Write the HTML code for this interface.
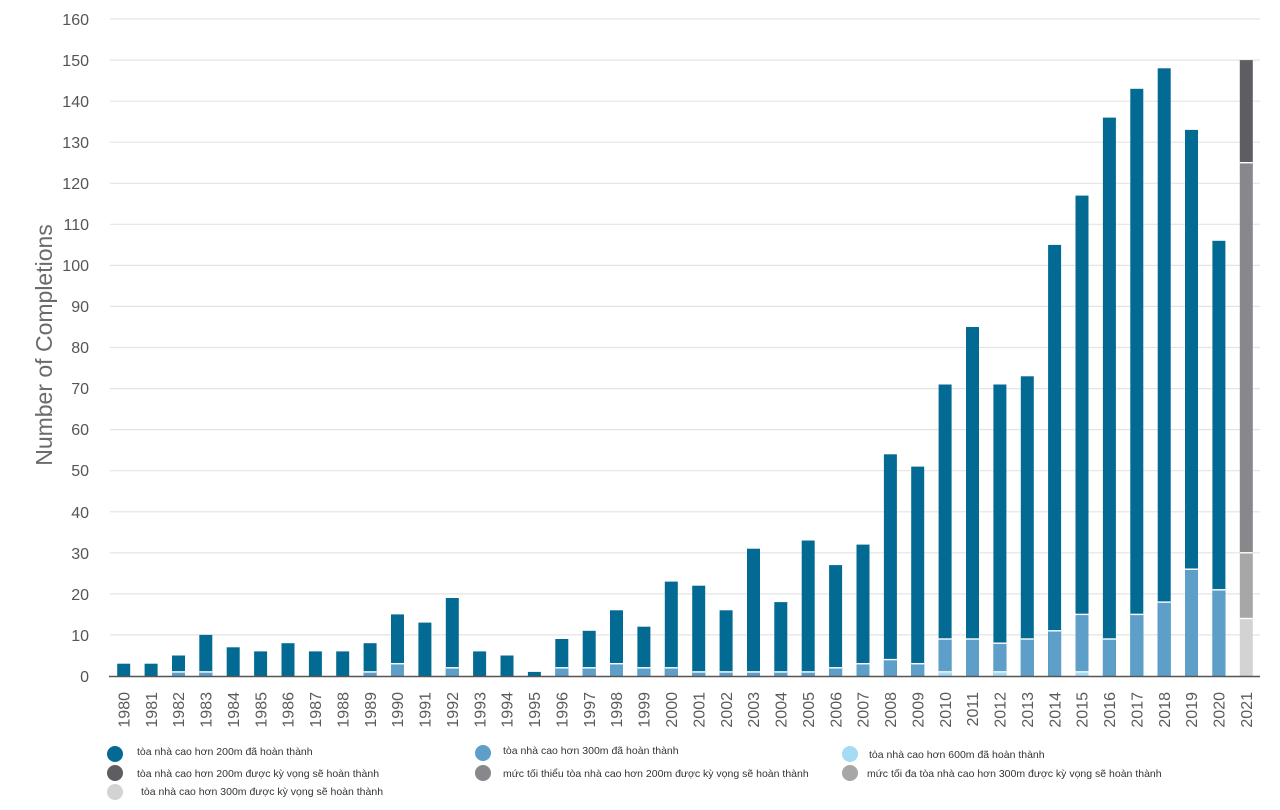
<!DOCTYPE html>
<html>
<head>
<meta charset="utf-8">
<style>
html,body{margin:0;padding:0;background:#fff;}
svg{display:block;}
text{font-family:"Liberation Sans",sans-serif;}
</style>
</head>
<body>
<svg width="1280" height="810" viewBox="0 0 1280 810" xmlns="http://www.w3.org/2000/svg">
<rect width="1280" height="810" fill="#fff"/>
<!-- gridlines -->
<g stroke="#e4e4e4" stroke-width="1.2">
<line x1="110" y1="19" x2="1260" y2="19"/>
<line x1="110" y1="60.1" x2="1260" y2="60.1"/>
<line x1="110" y1="101.2" x2="1260" y2="101.2"/>
<line x1="110" y1="142.2" x2="1260" y2="142.2"/>
<line x1="110" y1="183.3" x2="1260" y2="183.3"/>
<line x1="110" y1="224.3" x2="1260" y2="224.3"/>
<line x1="110" y1="265.4" x2="1260" y2="265.4"/>
<line x1="110" y1="306.4" x2="1260" y2="306.4"/>
<line x1="110" y1="347.5" x2="1260" y2="347.5"/>
<line x1="110" y1="388.6" x2="1260" y2="388.6"/>
<line x1="110" y1="429.6" x2="1260" y2="429.6"/>
<line x1="110" y1="470.7" x2="1260" y2="470.7"/>
<line x1="110" y1="511.8" x2="1260" y2="511.8"/>
<line x1="110" y1="552.8" x2="1260" y2="552.8"/>
<line x1="110" y1="593.9" x2="1260" y2="593.9"/>
<line x1="110" y1="634.9" x2="1260" y2="634.9"/>
</g>
<!-- y labels -->
<g font-size="16" fill="#555" text-anchor="end">
<text x="89" y="25">160</text>
<text x="89" y="66">150</text>
<text x="89" y="107">140</text>
<text x="89" y="148">130</text>
<text x="89" y="189">120</text>
<text x="89" y="230">110</text>
<text x="89" y="271">100</text>
<text x="89" y="312">90</text>
<text x="89" y="353">80</text>
<text x="89" y="394">70</text>
<text x="89" y="435">60</text>
<text x="89" y="476">50</text>
<text x="89" y="518">40</text>
<text x="89" y="559">30</text>
<text x="89" y="600">20</text>
<text x="89" y="641">10</text>
<text x="89" y="682">0</text>
</g>
<text transform="translate(52,345) rotate(-90)" font-size="23" fill="#6b6b6b" text-anchor="middle">Number of Completions</text>

<!-- dark blue bars (total) -->
<g fill="#036a93">
<rect x="117.2" y="663.7" width="13" height="12.3"/>
<rect x="144.6" y="663.7" width="13" height="12.3"/>
<rect x="172.0" y="655.5" width="13" height="20.5"/>
<rect x="199.3" y="634.9" width="13" height="41.1"/>
<rect x="226.7" y="647.3" width="13" height="28.7"/>
<rect x="254.1" y="651.4" width="13" height="24.6"/>
<rect x="281.5" y="643.2" width="13" height="32.8"/>
<rect x="308.9" y="651.4" width="13" height="24.6"/>
<rect x="336.2" y="651.4" width="13" height="24.6"/>
<rect x="363.6" y="643.2" width="13" height="32.8"/>
<rect x="391.0" y="614.4" width="13" height="61.6"/>
<rect x="418.4" y="622.6" width="13" height="53.4"/>
<rect x="445.8" y="598.0" width="13" height="78.0"/>
<rect x="473.1" y="651.4" width="13" height="24.6"/>
<rect x="500.5" y="655.5" width="13" height="20.5"/>
<rect x="527.9" y="671.9" width="13" height="4.1"/>
<rect x="555.3" y="639.0" width="13" height="37.0"/>
<rect x="582.7" y="630.8" width="13" height="45.2"/>
<rect x="610.0" y="610.3" width="13" height="65.7"/>
<rect x="637.4" y="626.7" width="13" height="49.3"/>
<rect x="664.8" y="581.6" width="13" height="94.4"/>
<rect x="692.2" y="585.7" width="13" height="90.3"/>
<rect x="719.6" y="610.3" width="13" height="65.7"/>
<rect x="747.0" y="548.7" width="13" height="127.3"/>
<rect x="774.3" y="602.1" width="13" height="73.9"/>
<rect x="801.7" y="540.5" width="13" height="135.5"/>
<rect x="829.1" y="565.1" width="13" height="110.9"/>
<rect x="856.5" y="544.6" width="13" height="131.4"/>
<rect x="883.9" y="454.3" width="13" height="221.7"/>
<rect x="911.2" y="466.6" width="13" height="209.4"/>
<rect x="938.6" y="384.5" width="13" height="291.5"/>
<rect x="966.0" y="327.0" width="13" height="349.0"/>
<rect x="993.4" y="384.5" width="13" height="291.5"/>
<rect x="1020.8" y="376.3" width="13" height="299.7"/>
<rect x="1048.1" y="244.9" width="13" height="431.1"/>
<rect x="1075.5" y="195.6" width="13" height="480.4"/>
<rect x="1102.9" y="117.6" width="13" height="558.4"/>
<rect x="1130.3" y="88.8" width="13" height="587.2"/>
<rect x="1157.7" y="68.3" width="13" height="607.7"/>
<rect x="1185.0" y="129.9" width="13" height="546.1"/>
<rect x="1212.4" y="240.8" width="13" height="435.2"/>
</g>
<!-- light blue (300m) -->
<g fill="#5d9fc9">
<rect x="172.0" y="671.9" width="13" height="4.1"/>
<rect x="199.3" y="671.9" width="13" height="4.1"/>
<rect x="363.6" y="671.9" width="13" height="4.1"/>
<rect x="391.0" y="663.7" width="13" height="12.3"/>
<rect x="445.8" y="667.8" width="13" height="8.2"/>
<rect x="555.3" y="667.8" width="13" height="8.2"/>
<rect x="582.7" y="667.8" width="13" height="8.2"/>
<rect x="610.0" y="663.7" width="13" height="12.3"/>
<rect x="637.4" y="667.8" width="13" height="8.2"/>
<rect x="664.8" y="667.8" width="13" height="8.2"/>
<rect x="692.2" y="671.9" width="13" height="4.1"/>
<rect x="719.6" y="671.9" width="13" height="4.1"/>
<rect x="747.0" y="671.9" width="13" height="4.1"/>
<rect x="774.3" y="671.9" width="13" height="4.1"/>
<rect x="801.7" y="671.9" width="13" height="4.1"/>
<rect x="829.1" y="667.8" width="13" height="8.2"/>
<rect x="856.5" y="663.7" width="13" height="12.3"/>
<rect x="883.9" y="659.6" width="13" height="16.4"/>
<rect x="911.2" y="663.7" width="13" height="12.3"/>
<rect x="938.6" y="639.0" width="13" height="37.0"/>
<rect x="966.0" y="639.0" width="13" height="37.0"/>
<rect x="993.4" y="643.2" width="13" height="32.8"/>
<rect x="1020.8" y="639.0" width="13" height="37.0"/>
<rect x="1048.1" y="630.8" width="13" height="45.2"/>
<rect x="1075.5" y="614.4" width="13" height="61.6"/>
<rect x="1102.9" y="639.0" width="13" height="37.0"/>
<rect x="1130.3" y="614.4" width="13" height="61.6"/>
<rect x="1157.7" y="602.1" width="13" height="73.9"/>
<rect x="1185.0" y="569.2" width="13" height="106.8"/>
<rect x="1212.4" y="589.8" width="13" height="86.2"/>
</g>
<!-- 600m -->
<g fill="#a6dbf4">
<rect x="938.6" y="671.9" width="13" height="4.1"/>
<rect x="993.4" y="671.9" width="13" height="4.1"/>
<rect x="1075.5" y="671.9" width="13" height="4.1"/>
</g>
<!-- 2021 -->
<rect x="1239.8" y="60.1" width="13" height="102.6" fill="#5e5d62"/>
<rect x="1239.8" y="162.7" width="13" height="390.1" fill="#88878c"/>
<rect x="1239.8" y="552.8" width="13" height="65.7" fill="#a7a7a8"/>
<rect x="1239.8" y="618.5" width="13" height="57.5" fill="#d3d3d3"/>
<!-- white separators -->
<g fill="#fff">
<rect x="172.0" y="671.2" width="13" height="1.4"/>
<rect x="199.3" y="671.2" width="13" height="1.4"/>
<rect x="363.6" y="671.2" width="13" height="1.4"/>
<rect x="391.0" y="663.0" width="13" height="1.4"/>
<rect x="445.8" y="667.1" width="13" height="1.4"/>
<rect x="555.3" y="667.1" width="13" height="1.4"/>
<rect x="582.7" y="667.1" width="13" height="1.4"/>
<rect x="610.0" y="663.0" width="13" height="1.4"/>
<rect x="637.4" y="667.1" width="13" height="1.4"/>
<rect x="664.8" y="667.1" width="13" height="1.4"/>
<rect x="692.2" y="671.2" width="13" height="1.4"/>
<rect x="719.6" y="671.2" width="13" height="1.4"/>
<rect x="747.0" y="671.2" width="13" height="1.4"/>
<rect x="774.3" y="671.2" width="13" height="1.4"/>
<rect x="801.7" y="671.2" width="13" height="1.4"/>
<rect x="829.1" y="667.1" width="13" height="1.4"/>
<rect x="856.5" y="663.0" width="13" height="1.4"/>
<rect x="883.9" y="658.9" width="13" height="1.4"/>
<rect x="911.2" y="663.0" width="13" height="1.4"/>
<rect x="938.6" y="638.3" width="13" height="1.4"/>
<rect x="966.0" y="638.3" width="13" height="1.4"/>
<rect x="993.4" y="642.5" width="13" height="1.4"/>
<rect x="1020.8" y="638.3" width="13" height="1.4"/>
<rect x="1048.1" y="630.1" width="13" height="1.4"/>
<rect x="1075.5" y="613.7" width="13" height="1.4"/>
<rect x="1102.9" y="638.3" width="13" height="1.4"/>
<rect x="1130.3" y="613.7" width="13" height="1.4"/>
<rect x="1157.7" y="601.4" width="13" height="1.4"/>
<rect x="1185.0" y="568.5" width="13" height="1.4"/>
<rect x="1212.4" y="589.1" width="13" height="1.4"/>
<rect x="938.6" y="671.2" width="13" height="1.2"/>
<rect x="993.4" y="671.2" width="13" height="1.2"/>
<rect x="1075.5" y="671.2" width="13" height="1.2"/>
<rect x="1239.8" y="162.0" width="13" height="1.4"/>
<rect x="1239.8" y="552.1" width="13" height="1.4"/>
<rect x="1239.8" y="617.8" width="13" height="1.4"/>
</g>
<!-- axis line -->
<line x1="109" y1="676.5" x2="1260" y2="676.5" stroke="#555" stroke-width="1.5"/>
<!-- x labels -->
<g font-size="16" fill="#5a5a5a" text-anchor="end">
<text transform="translate(129.4,692) rotate(-90)">1980</text>
<text transform="translate(156.8,692) rotate(-90)">1981</text>
<text transform="translate(184.2,692) rotate(-90)">1982</text>
<text transform="translate(211.5,692) rotate(-90)">1983</text>
<text transform="translate(238.9,692) rotate(-90)">1984</text>
<text transform="translate(266.3,692) rotate(-90)">1985</text>
<text transform="translate(293.7,692) rotate(-90)">1986</text>
<text transform="translate(321.1,692) rotate(-90)">1987</text>
<text transform="translate(348.4,692) rotate(-90)">1988</text>
<text transform="translate(375.8,692) rotate(-90)">1989</text>
<text transform="translate(403.2,692) rotate(-90)">1990</text>
<text transform="translate(430.6,692) rotate(-90)">1991</text>
<text transform="translate(458.0,692) rotate(-90)">1992</text>
<text transform="translate(485.3,692) rotate(-90)">1993</text>
<text transform="translate(512.7,692) rotate(-90)">1994</text>
<text transform="translate(540.1,692) rotate(-90)">1995</text>
<text transform="translate(567.5,692) rotate(-90)">1996</text>
<text transform="translate(594.9,692) rotate(-90)">1997</text>
<text transform="translate(622.2,692) rotate(-90)">1998</text>
<text transform="translate(649.6,692) rotate(-90)">1999</text>
<text transform="translate(677.0,692) rotate(-90)">2000</text>
<text transform="translate(704.4,692) rotate(-90)">2001</text>
<text transform="translate(731.8,692) rotate(-90)">2002</text>
<text transform="translate(759.2,692) rotate(-90)">2003</text>
<text transform="translate(786.5,692) rotate(-90)">2004</text>
<text transform="translate(813.9,692) rotate(-90)">2005</text>
<text transform="translate(841.3,692) rotate(-90)">2006</text>
<text transform="translate(868.7,692) rotate(-90)">2007</text>
<text transform="translate(896.1,692) rotate(-90)">2008</text>
<text transform="translate(923.4,692) rotate(-90)">2009</text>
<text transform="translate(950.8,692) rotate(-90)">2010</text>
<text transform="translate(978.2,692) rotate(-90)">2011</text>
<text transform="translate(1005.6,692) rotate(-90)">2012</text>
<text transform="translate(1033.0,692) rotate(-90)">2013</text>
<text transform="translate(1060.3,692) rotate(-90)">2014</text>
<text transform="translate(1087.7,692) rotate(-90)">2015</text>
<text transform="translate(1115.1,692) rotate(-90)">2016</text>
<text transform="translate(1142.5,692) rotate(-90)">2017</text>
<text transform="translate(1169.9,692) rotate(-90)">2018</text>
<text transform="translate(1197.2,692) rotate(-90)">2019</text>
<text transform="translate(1224.6,692) rotate(-90)">2020</text>
<text transform="translate(1252.0,692) rotate(-90)">2021</text>
</g>
<!-- legend -->
<circle cx="115" cy="754" r="8" fill="#046a93"/>
<circle cx="115" cy="773" r="8" fill="#5e5d62"/>
<circle cx="115" cy="792" r="8" fill="#d3d3d3"/>
<circle cx="483" cy="753" r="8" fill="#5d9fc9"/>
<circle cx="483" cy="773" r="8" fill="#88878c"/>
<circle cx="850" cy="754" r="8" fill="#a6dbf4"/>
<circle cx="850" cy="773" r="8" fill="#a7a7a8"/>
<g font-size="10.5" fill="#333">
<text x="137" y="755">tòa nhà cao hơn 200m đã hoàn thành</text>
<text x="137" y="777">tòa nhà cao hơn 200m được kỳ vọng sẽ hoàn thành</text>
<text x="141" y="795">tòa nhà cao hơn 300m được kỳ vọng sẽ hoàn thành</text>
<text x="503" y="754">tòa nhà cao hơn 300m đã hoàn thành</text>
<text x="503" y="777">mức tối thiểu tòa nhà cao hơn 200m được kỳ vọng sẽ hoàn thành</text>
<text x="869" y="758">tòa nhà cao hơn 600m đã hoàn thành</text>
<text x="867" y="777">mức tối đa tòa nhà cao hơn 300m được kỳ vọng sẽ hoàn thành</text>
</g>
</svg>
</body>
</html>
